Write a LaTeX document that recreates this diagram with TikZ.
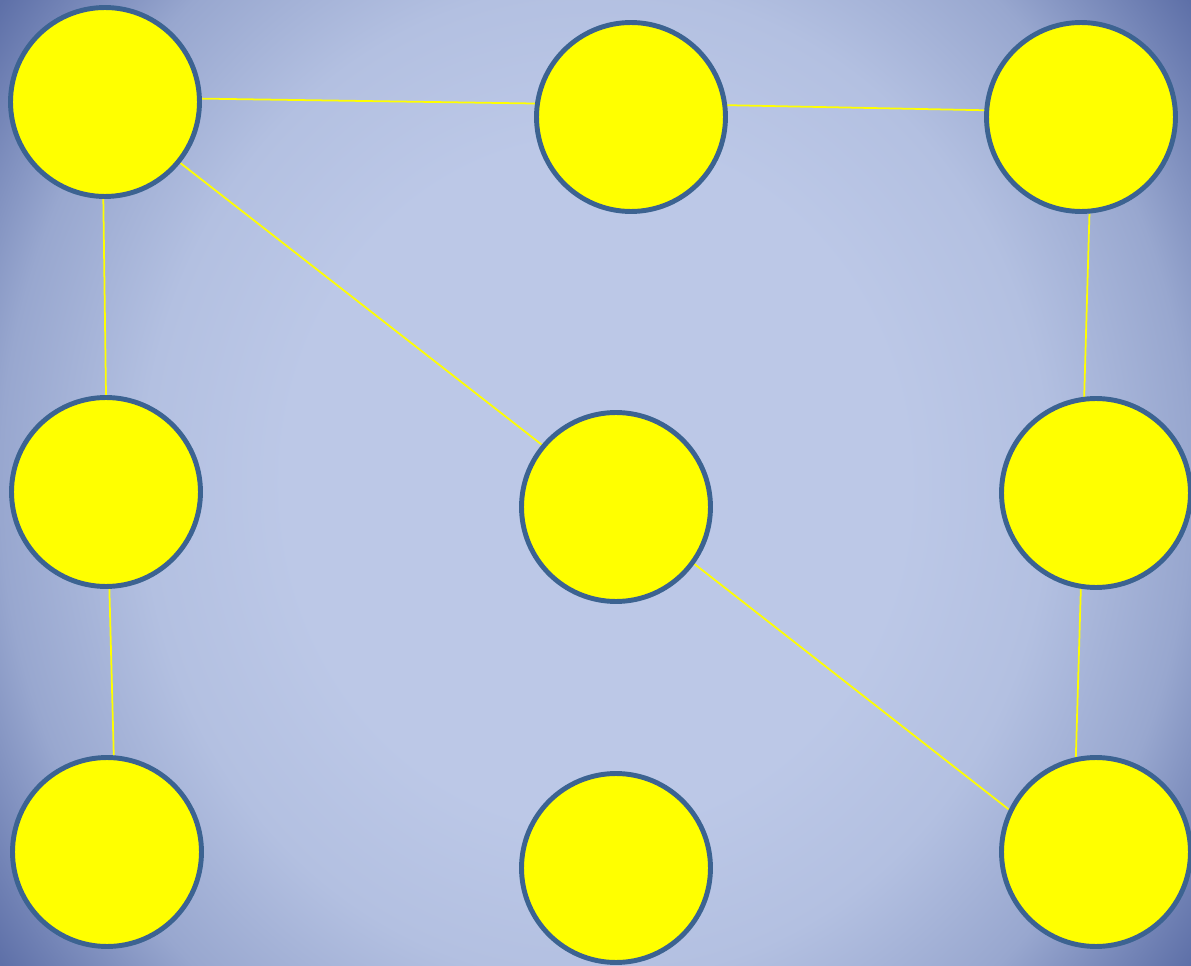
\documentclass[tikz,border=0pt]{standalone}
\usetikzlibrary{backgrounds}
\definecolor{bgc}{HTML}{BCC8E7}
\definecolor{bgb}{HTML}{B3C0E1}
\definecolor{bgm}{HTML}{98A7CF}
\definecolor{bgd}{HTML}{5E70A8}
\definecolor{rim}{HTML}{3C6391}
\definecolor{sun}{HTML}{FFFF00}
\pgfdeclareradialshading{bgshade}{\pgfpoint{0bp}{0bp}}{%
  color(0bp)=(bgc); color(13bp)=(bgc); color(19bp)=(bgb); color(25bp)=(bgm); color(31bp)=(bgd); color(50bp)=(bgd)}
\tikzset{
  dot/.style={circle, draw=rim, line width=2.8pt, fill=sun, minimum size=3.78cm, inner sep=0pt},
  link/.style={draw=sun, line width=1pt}
}
\begin{document}
\begin{tikzpicture}[x=0.02cm,y=-0.02cm]
\clip (0,0) rectangle (1191,966);
\useasboundingbox (0,0) rectangle (1191,966);
\node[dot] (A) at (105,102) {};
\node[dot] (B) at (631,117) {};
\node[dot] (C) at (1081,117) {};
\node[dot] (D) at (106,492) {};
\node[dot] (E) at (616,507) {};
\node[dot] (F) at (1096,493) {};
\node[dot] (G) at (107,852) {};
\node[dot] (H) at (616,868) {};
\node[dot] (I) at (1096,852) {};
\begin{scope}[on background layer]
\shade[shading=bgshade] (0,-170) rectangle (1191,1136);
\draw[link] (A.2) -- (B.172);
\draw[link] (B.7) -- (C.176);
\draw[link] (A.-91) -- (D.90);
\draw[link] (A.-39) -- (E.140);
\draw[link] (C.-85) -- (F.97);
\draw[link] (D.-88) -- (G.86);
\draw[link] (E.-36) -- (I.154);
\draw[link] (F.-99) -- (I.102);
\end{scope}
\end{tikzpicture}
\end{document}
